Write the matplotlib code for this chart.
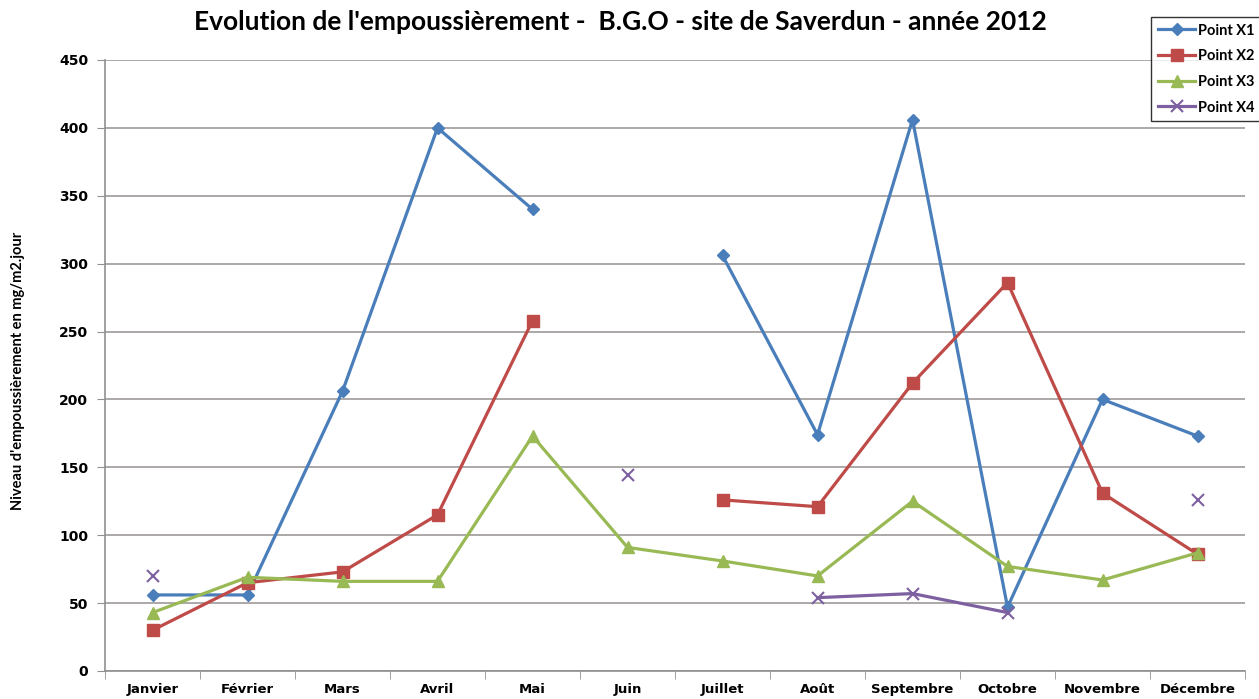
import numpy as np
import matplotlib
matplotlib.use('Agg')
import matplotlib.pyplot as plt

# monthly dust levels, NaN = no measure
mois = ['Janvier', 'Février', 'Mars', 'Avril', 'Mai', 'Juin', 'Juillet',
        'Août', 'Septembre', 'Octobre', 'Novembre', 'Décembre']
nan = np.nan
point_x1 = [56, 56, 206, 400, 340, nan, 306, 174, 406, 47, 200, 173]
point_x2 = [30, 65, 73, 115, 258, nan, 126, 121, 212, 286, 131, 86]
point_x3 = [43, 69, 66, 66, 173, 91, 81, 70, 125, 77, 67, 87]
point_x4 = [70, nan, nan, nan, nan, 144, nan, 54, 57, 43, nan, 126]

fig = plt.figure(figsize=(12.59, 6.99), dpi=100, facecolor='white')
ax = fig.add_axes([0.0834, 0.0401, 0.9055, 0.8741])

x = np.arange(len(mois))
ax.plot(x, point_x1, color='#4a7ebb', lw=2.3, marker='D', ms=6, label='Point X1')
ax.plot(x, point_x2, color='#be4b48', lw=2.3, marker='s', ms=8, label='Point X2')
ax.plot(x, point_x3, color='#98b954', lw=2.3, marker='^', ms=8, label='Point X3')
ax.plot(x, point_x4, color='#7d60a0', lw=2.3, marker='x', ms=8, mew=1.5, label='Point X4')

ax.set_xlim(-0.5, len(mois) - 0.5)
ax.set_ylim(0, 450)
ax.set_yticks(np.arange(0, 451, 50))
ax.yaxis.grid(True, color='#a09a9a', lw=1.2)
ax.set_axisbelow(True)

ax.set_xticks(x)
ax.set_xticklabels(mois, fontsize=9.5, fontweight='bold', family='DejaVu Sans')
ax.set_xticks(np.arange(-0.5, len(mois), 1), minor=True)
ax.tick_params(axis='x', which='major', length=0, pad=9)
ax.tick_params(axis='x', which='minor', length=6, color='#909090', direction='out')
ax.tick_params(axis='y', length=6, color='#909090', pad=6)
for lab in ax.get_yticklabels():
    lab.set_fontsize(10)
    lab.set_fontweight('bold')

for s in ['top', 'right']:
    ax.spines[s].set_visible(False)
for s in ['left', 'bottom']:
    ax.spines[s].set_color('#909090')
    ax.spines[s].set_linewidth(1.2)

fig.text(0.493, 0.968, "Evolution de l'empoussièrement -  B.G.O - site de Saverdun - année 2012",
         ha='center', va='center', fontsize=19, fontweight='bold', family='Lato')
fig.text(0.014, 0.47, "Niveau d'empoussièrement en mg/m2.jour", rotation=90,
         ha='center', va='center', fontsize=10.5, fontweight='bold', family='Lato')

leg = fig.legend(loc='upper left', bbox_to_anchor=(1151 / 1259, 1 - 17 / 699),
                 frameon=True, fancybox=False, edgecolor='black',
                 prop={'family': 'Lato', 'weight': 'bold', 'size': 10.5},
                 handlelength=2.6, handletextpad=0.15, borderpad=0.45,
                 labelspacing=0.8, borderaxespad=0)
leg.get_frame().set_linewidth(1.0)

fig.savefig('out.png', dpi=100)
